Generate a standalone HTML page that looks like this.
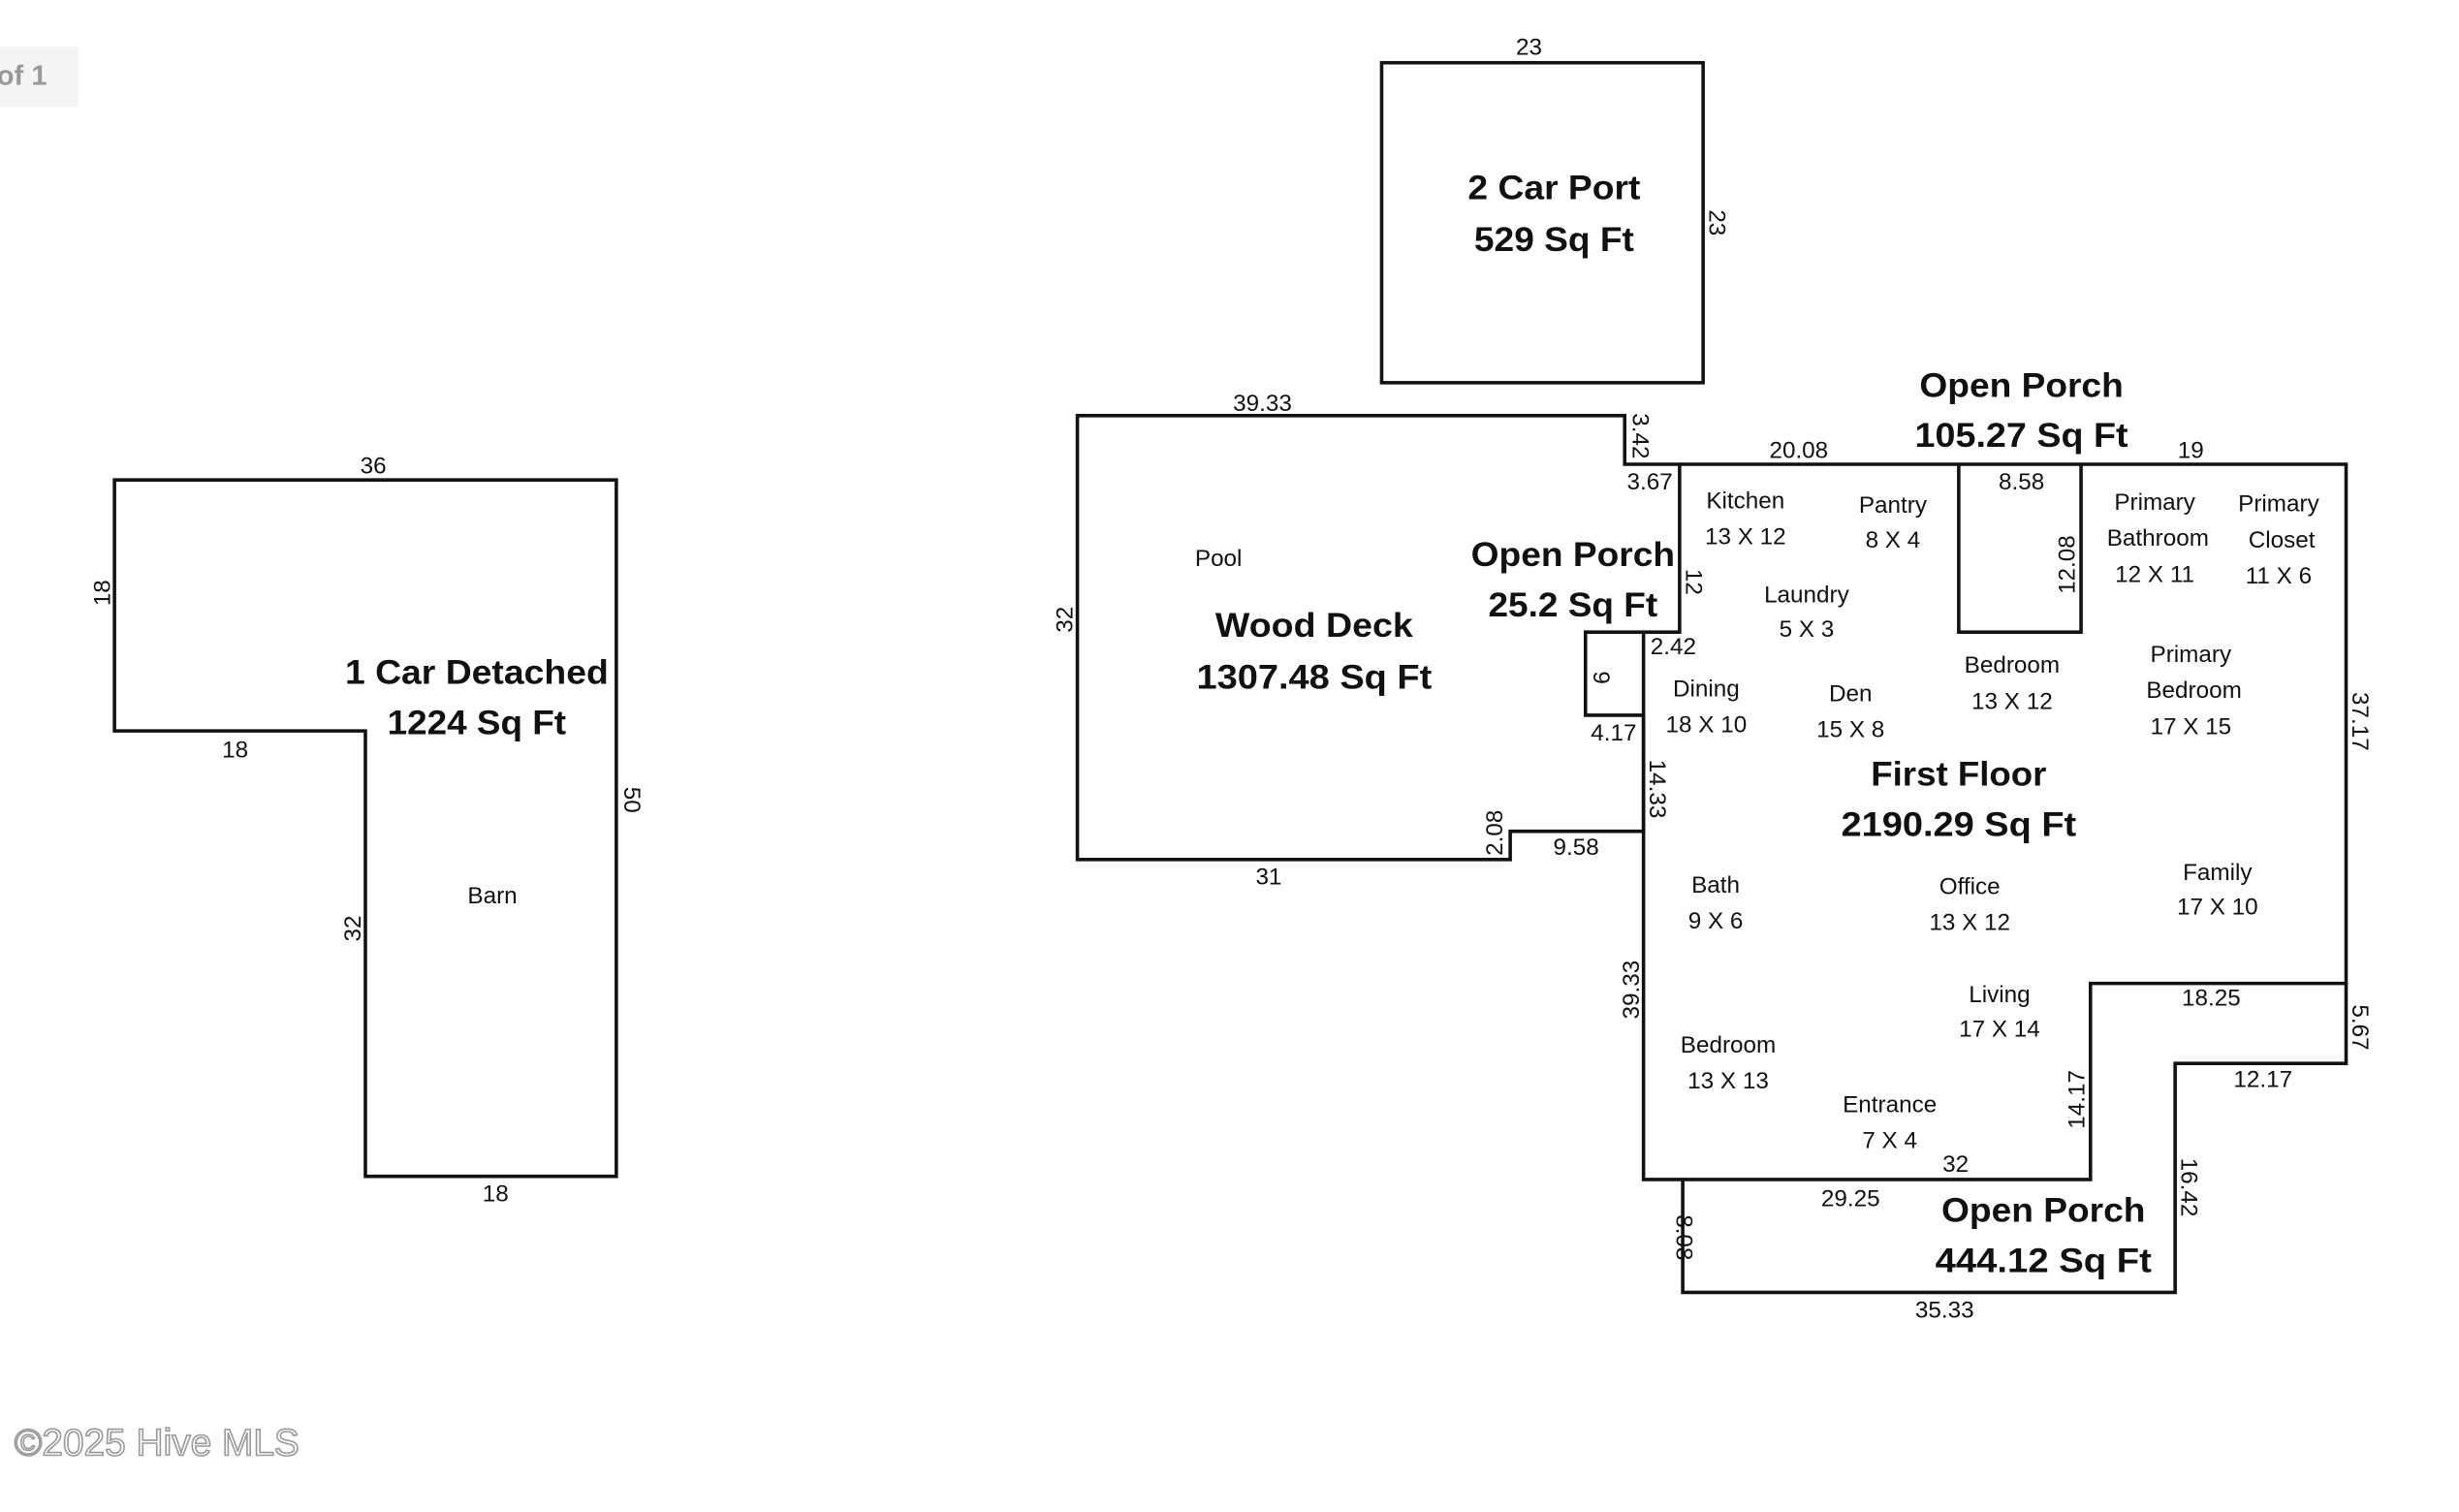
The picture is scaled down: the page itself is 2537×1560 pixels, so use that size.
<!DOCTYPE html>
<html><head><meta charset="utf-8"><style>
html,body{margin:0;padding:0;background:#fff;width:2537px;height:1560px;overflow:hidden}
svg{display:block}
text{font-family:"Liberation Sans",sans-serif;fill:#111}
.s{font-size:15px}
.b{font-size:22px;font-weight:bold}
</style></head><body>
<svg width="2537" height="1560" viewBox="0 0 1568 964" preserveAspectRatio="none" xmlns="http://www.w3.org/2000/svg">
<rect x="0" y="30" width="50" height="38" fill="#f4f4f4"/>
<g fill="none" stroke="#111" stroke-width="2.2">
<rect x="881" y="40" width="205" height="204"/>
<polygon points="687,265 1036,265 1036,296 1071,296 1071,403 1011,403 1011,456 1048,456 1048,530 963,530 963,548 687,548"/>
<polyline points="1071,296 1496,296 1496,627 1333,627 1333,752 1048,752 1048,403"/>
<polyline points="1249,296 1249,403 1327,403 1327,296"/>
<polyline points="1496,627 1496,678 1387,678 1387,824 1073,824 1073,752"/>
<polygon points="73,306 393,306 393,750 233,750 233,466 73,466"/>
</g>
<g text-anchor="middle">
<text x="-2" y="54" font-size="18" font-weight="bold" style="fill:#999" text-anchor="start">of 1</text>
<text x="100" y="928" font-size="24" style="fill:#fff;stroke:#999;stroke-width:1">©2025 Hive MLS</text>

<text class="s" x="975" y="35">23</text>
<text class="s" transform="translate(1090,142) rotate(90)">23</text>
<text class="b" x="991" y="127" textLength="110" lengthAdjust="spacingAndGlyphs">2 Car Port</text>
<text class="b" x="991" y="160" textLength="102" lengthAdjust="spacingAndGlyphs">529 Sq Ft</text>

<text class="s" x="805" y="262">39.33</text>
<text class="s" transform="translate(1041,278) rotate(90)">3.42</text>
<text class="s" x="1052" y="312">3.67</text>
<text class="s" transform="translate(684,395) rotate(-90)">32</text>
<text class="s" x="777" y="361">Pool</text>
<text class="b" x="838" y="406" textLength="126" lengthAdjust="spacingAndGlyphs">Wood Deck</text>
<text class="b" x="838" y="439" textLength="150" lengthAdjust="spacingAndGlyphs">1307.48 Sq Ft</text>
<text class="b" x="1003" y="361" textLength="130" lengthAdjust="spacingAndGlyphs">Open Porch</text>
<text class="b" x="1003" y="393" textLength="108" lengthAdjust="spacingAndGlyphs">25.2 Sq Ft</text>
<text class="s" transform="translate(1075,371) rotate(90)">12</text>
<text class="s" x="1067" y="417">2.42</text>
<text class="s" transform="translate(1016,432) rotate(90)">9</text>
<text class="s" x="1029" y="472">4.17</text>
<text class="s" transform="translate(1052,503) rotate(90)">14.33</text>
<text class="s" transform="translate(958,531) rotate(-90)">2.08</text>
<text class="s" x="1005" y="545">9.58</text>
<text class="s" x="809" y="564">31</text>

<text class="s" x="1147" y="292">20.08</text>
<text class="b" x="1289" y="253" textLength="130" lengthAdjust="spacingAndGlyphs">Open Porch</text>
<text class="b" x="1289" y="285" textLength="136" lengthAdjust="spacingAndGlyphs">105.27 Sq Ft</text>
<text class="s" x="1397" y="292">19</text>
<text class="s" x="1289" y="312">8.58</text>
<text class="s" transform="translate(1323,360) rotate(-90)">12.08</text>
<text class="s" x="1113" y="324">Kitchen</text>
<text class="s" x="1113" y="347">13 X 12</text>
<text class="s" x="1207" y="327">Pantry</text>
<text class="s" x="1207" y="349">8 X 4</text>
<text class="s" x="1152" y="384">Laundry</text>
<text class="s" x="1152" y="406">5 X 3</text>
<text class="s" x="1374" y="325">Primary</text>
<text class="s" x="1376" y="348">Bathroom</text>
<text class="s" x="1374" y="371">12 X 11</text>
<text class="s" x="1453" y="326">Primary</text>
<text class="s" x="1455" y="349">Closet</text>
<text class="s" x="1453" y="372">11 X 6</text>
<text class="s" x="1283" y="429">Bedroom</text>
<text class="s" x="1283" y="452">13 X 12</text>
<text class="s" x="1397" y="422">Primary</text>
<text class="s" x="1399" y="445">Bedroom</text>
<text class="s" x="1397" y="468">17 X 15</text>
<text class="s" transform="translate(1500,460) rotate(90)">37.17</text>
<text class="s" x="1088" y="444">Dining</text>
<text class="s" x="1088" y="467">18 X 10</text>
<text class="s" x="1180" y="447">Den</text>
<text class="s" x="1180" y="470">15 X 8</text>
<text class="b" x="1249" y="501" textLength="112" lengthAdjust="spacingAndGlyphs">First Floor</text>
<text class="b" x="1249" y="533" textLength="150" lengthAdjust="spacingAndGlyphs">2190.29 Sq Ft</text>
<text class="s" x="1094" y="569">Bath</text>
<text class="s" x="1094" y="592">9 X 6</text>
<text class="s" x="1256" y="570">Office</text>
<text class="s" x="1256" y="593">13 X 12</text>
<text class="s" x="1414" y="561">Family</text>
<text class="s" x="1414" y="583">17 X 10</text>
<text class="s" transform="translate(1045,631) rotate(-90)">39.33</text>
<text class="s" x="1275" y="639">Living</text>
<text class="s" x="1275" y="661">17 X 14</text>
<text class="s" x="1410" y="641">18.25</text>
<text class="s" transform="translate(1500,655) rotate(90)">5.67</text>
<text class="s" x="1102" y="671">Bedroom</text>
<text class="s" x="1102" y="694">13 X 13</text>
<text class="s" x="1443" y="693">12.17</text>
<text class="s" x="1205" y="709">Entrance</text>
<text class="s" x="1205" y="732">7 X 4</text>
<text class="s" transform="translate(1329,701) rotate(-90)">14.17</text>
<text class="s" x="1247" y="747">32</text>
<text class="s" x="1180" y="769">29.25</text>
<text class="b" x="1303" y="779" textLength="130" lengthAdjust="spacingAndGlyphs">Open Porch</text>
<text class="b" x="1303" y="811" textLength="138" lengthAdjust="spacingAndGlyphs">444.12 Sq Ft</text>
<text class="s" transform="translate(1391,757) rotate(90)">16.42</text>
<text class="s" transform="translate(1069,789) rotate(90)">8.08</text>
<text class="s" x="1240" y="840">35.33</text>

<text class="s" x="238" y="302">36</text>
<text class="s" transform="translate(70,378) rotate(-90)">18</text>
<text class="b" x="304" y="436" textLength="168" lengthAdjust="spacingAndGlyphs">1 Car Detached</text>
<text class="b" x="304" y="468" textLength="114" lengthAdjust="spacingAndGlyphs">1224 Sq Ft</text>
<text class="s" x="150" y="483">18</text>
<text class="s" transform="translate(398,510) rotate(90)">50</text>
<text class="s" x="314" y="576">Barn</text>
<text class="s" transform="translate(230,592) rotate(-90)">32</text>
<text class="s" x="316" y="766">18</text>
</g>
</svg>
</body></html>
